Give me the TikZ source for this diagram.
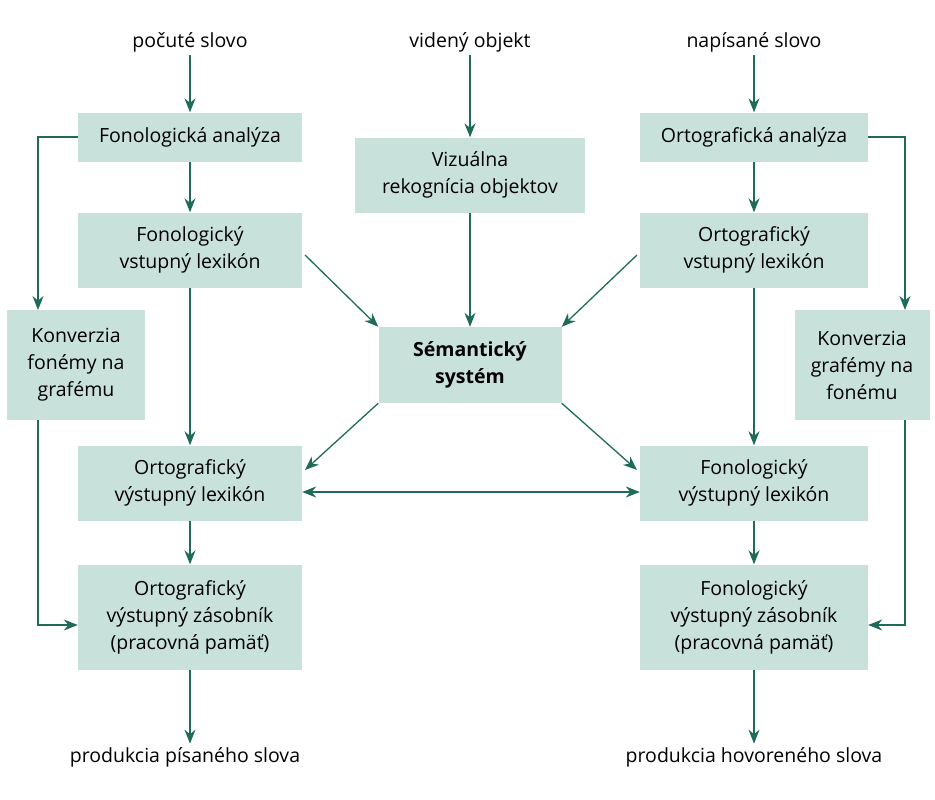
\documentclass[tikz,border=0pt]{standalone}
\usepackage{fontspec}
\setmainfont{Open Sans}
\usetikzlibrary{arrows.meta}
\definecolor{boxfill}{HTML}{C9E1DB}
\definecolor{arrowcol}{HTML}{1F6B5A}
\begin{document}
\begin{tikzpicture}[x=1pt,y=-1pt,>={Stealth[length=14pt,width=11pt]},font=\fontsize{19.5}{27}\selectfont]
    \tikzstyle{rec}=[fill=boxfill,rectangle,align=center,inner sep=0pt]
    \tikzstyle{arr}=[->,draw=arrowcol,line width=1.3pt]
    \useasboundingbox (0,0) rectangle (935,800);
    % input words
    \node (heard) at (190,42) {počuté slovo};
    \node (seen) at (470,42) {videný objekt};
    \node (written) at (754,42) {napísané slovo};
    % left column
    \node[rec, minimum width=224pt, minimum height=49pt] (fonan) at (190,137) {Fonologická analýza};
    \node[rec, minimum width=224pt, minimum height=75pt] (fonin) at (190,250) {Fonologický\\vstupný lexikón};
    \node[rec, minimum width=138pt, minimum height=110pt] (konvl) at (76,365) {Konverzia\\fonémy na\\grafému};
    \node[rec, minimum width=224pt, minimum height=75pt] (ortout) at (190,483) {Ortografický\\výstupný lexikón};
    \node[rec, minimum width=224pt, minimum height=105pt] (ortbuf) at (190,617) {Ortografický\\výstupný zásobník\\(pracovná pamäť)};
    % middle
    \node[rec, minimum width=230pt, minimum height=75pt] (vis) at (470,175) {Vizuálna\\rekognícia objektov};
    \node[rec, minimum width=183pt, minimum height=76pt, font=\fontsize{19.5}{27}\selectfont\bfseries] (sem) at (470,365) {Sémantický\\systém};
    % right column
    \node[rec, minimum width=228pt, minimum height=49pt] (ortan) at (754,137) {Ortografická analýza};
    \node[rec, minimum width=228pt, minimum height=75pt] (ortin) at (754,250) {Ortografický\\vstupný lexikón};
    \node[rec, minimum width=135pt, minimum height=110pt] (konvr) at (862,365) {Konverzia\\grafémy na\\fonému};
    \node[rec, minimum width=228pt, minimum height=75pt] (fonout) at (754,483) {Fonologický\\výstupný lexikón};
    \node[rec, minimum width=228pt, minimum height=105pt] (fonbuf) at (754,617) {Fonologický\\výstupný zásobník\\(pracovná pamäť)};
    % outputs
    \node (prodw) at (185,757) {produkcia písaného slova};
    \node (prods) at (754,757) {produkcia hovoreného slova};

    \draw[arr] (heard) -- (fonan);
    \draw[arr] (fonan) -- (fonin);
    \draw[arr] (fonin) -- (ortout);
    \draw[arr] (ortout) -- (ortbuf);
    \draw[arr] (ortbuf) -- (prodw.north -| ortbuf);
    \draw[arr] (seen) -- (vis);
    \draw[arr] (vis) -- (sem);
    \draw[arr] (written) -- (ortan);
    \draw[arr] (ortan) -- (ortin);
    \draw[arr] (ortin) -- (fonout);
    \draw[arr] (fonout) -- (fonbuf);
    \draw[arr] (fonbuf) -- (prods);

    \draw[arr] (fonan.west) -| (38,310);
    \draw[arr] (38,420) |- (ortbuf.west |- 0,625);
    \draw[arr] (ortan.east) -| (905,310);
    \draw[arr] (905,420) |- (fonbuf.east |- 0,625);

    \draw[arr] (305,255) -- (sem.north west);
    \draw[arr] (637,255) -- (sem.north east);
    \draw[arr] (sem.south west) -- (305,470);
    \draw[arr] (sem.south east) -- (637,470);
    \draw[arr,<->] (ortout.east |- 0,492) -- (fonout.west |- 0,492);
\end{tikzpicture}
\end{document}
